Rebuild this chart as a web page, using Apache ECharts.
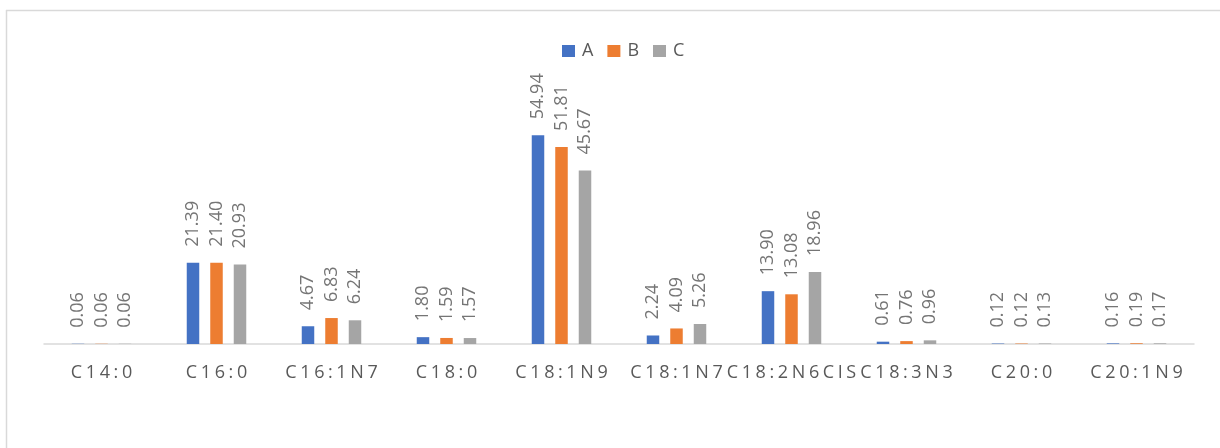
<!DOCTYPE html>
<html><head><meta charset="utf-8">
<script src="https://cdn.jsdelivr.net/npm/echarts@6/dist/echarts.min.js"></script>
<style>html,body{margin:0;padding:0;background:#fff}#c{width:1220px;height:448px}</style>
</head><body><div id="c"></div>
<script>
const categories = ['C14:0','C16:0','C16:1N7','C18:0','C18:1N9','C18:1N7','C18:2N6CIS','C18:3N3','C20:0','C20:1N9'];
const seriesA = [0.06, 21.39, 4.67, 1.80, 54.94, 2.24, 13.90, 0.61, 0.12, 0.16];
const seriesB = [0.06, 21.40, 6.83, 1.59, 51.81, 4.09, 13.08, 0.76, 0.12, 0.19];
const seriesC = [0.06, 20.93, 6.24, 1.57, 45.67, 5.26, 18.96, 0.96, 0.13, 0.17];
const seriesNames = ['A','B','C'];
const colors = ['#4472C4','#ED7D31','#A5A5A5'];
const font = '"Open Sans", "Liberation Sans", sans-serif';
const chart = echarts.init(document.getElementById('c'));
function mk(name, data, color){
  return {name, type:'bar', data, barWidth:12.5, barGap:'88%', itemStyle:{color},
    label:{show:true, position:'top', rotate:90, distance:16, align:'left', verticalAlign:'middle',
      color:'#757575', fontSize:18, fontFamily:font, formatter:p=>p.value.toFixed(2)}};
}
chart.setOption({
  animation:false,
  color: colors,
  legend:{top:42, left:562, padding:0, itemWidth:13, itemHeight:12, itemGap:14, icon:'rect',
    textStyle:{color:'#595959', fontSize:18, fontFamily:font, padding:[0,0,0,2]}},
  grid:{left:44, right:26, top:116, bottom:104, containLabel:false},
  xAxis:{type:'category', data:categories,
    axisLine:{lineStyle:{color:'#D9D9D9', width:1.5}}, axisTick:{show:false},
    axisLabel:{interval:0, margin:19,
      formatter:v=>v.split('').map(ch=>'{c|'+ch+'}').join(''),
      rich:{c:{padding:[0,1.8], fontSize:18, lineHeight:20, color:'#595959', fontFamily:font}}}},
  yAxis:{type:'value', min:0, max:60, show:false, splitLine:{show:false}},
  series:[mk(seriesNames[0], seriesA, colors[0]), mk(seriesNames[1], seriesB, colors[1]), mk(seriesNames[2], seriesC, colors[2])],
  graphic:[
    {type:'line', shape:{x1:6, y1:10.5, x2:1220, y2:10.5}, style:{stroke:'#D9D9D9', lineWidth:1.5}},
    {type:'line', shape:{x1:6.5, y1:10, x2:6.5, y2:448}, style:{stroke:'#D9D9D9', lineWidth:1.5}}
  ]
});
</script></body></html>
